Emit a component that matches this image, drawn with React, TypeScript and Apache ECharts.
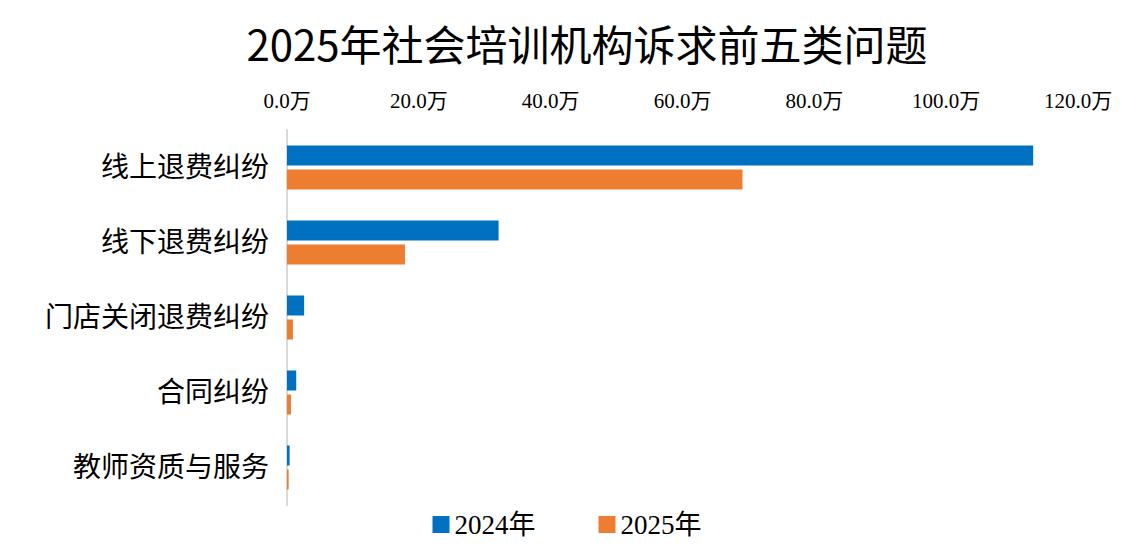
import { useEffect, useRef } from 'react';
import * as echarts from 'echarts';

const categories = ['线上退费纠纷', '线下退费纠纷', '门店关闭退费纠纷', '合同纠纷', '教师资质与服务'];
const values2024 = [113.2, 32.1, 2.6, 1.4, 0.4];
const values2025 = [69.1, 17.9, 0.9, 0.6, 0.25];
const seriesNames = ['2024年', '2025年'];

const SERIF = '"Liberation Serif", "Noto Sans CJK SC", serif';

export default function App() {
  const chartRef = useRef<HTMLDivElement>(null);

  useEffect(() => {
    if (!chartRef.current) return;
    document.body.style.margin = '0';

    const chart = echarts.init(chartRef.current, undefined, { renderer: 'svg' });

    const option: echarts.EChartsOption = {
      animation: false,
      backgroundColor: '#ffffff',
      title: {
        text: '2025年社会培训机构诉求前五类问题',
        left: 582,
        textAlign: 'center',
        top: 16,
        textStyle: {
          fontFamily: '"Noto Sans CJK SC", sans-serif',
          fontSize: 42,
          fontWeight: 'normal',
          color: '#000000',
        },
      },
      legend: {
        data: seriesNames,
        bottom: 12,
        left: 'center',
        icon: 'rect',
        itemWidth: 17,
        itemHeight: 17,
        itemGap: 63,
        itemStyle: { borderWidth: 0 },
        textStyle: { fontFamily: SERIF, fontSize: 27, color: '#000000' },
      },
      grid: {
        left: 287,
        right: 56,
        top: 130,
        bottom: 50,
      },
      xAxis: {
        type: 'value',
        position: 'top',
        min: 0,
        max: 120,
        interval: 20,
        axisLine: { show: false },
        axisTick: { show: false },
        splitLine: { show: false },
        axisLabel: {
          margin: 19,
          fontFamily: SERIF,
          fontSize: 21,
          color: '#000000',
          formatter: (v: number) => `${v.toFixed(1)}万`,
        },
      },
      yAxis: {
        type: 'category',
        data: categories,
        inverse: true,
        axisLine: { show: true, lineStyle: { color: '#D9D9D9', width: 2 } },
        axisTick: { show: false },
        axisLabel: {
          margin: 18,
          fontFamily: SERIF,
          fontSize: 28,
          color: '#000000',
        },
      },
      series: [
        {
          name: seriesNames[0],
          type: 'bar',
          data: values2024,
          barWidth: 20,
          barGap: '20%',
          itemStyle: { color: '#0070C0' },
        },
        {
          name: seriesNames[1],
          type: 'bar',
          data: values2025,
          barWidth: 20,
          barGap: '20%',
          itemStyle: { color: '#ED7D31' },
        },
      ],
    };

    chart.setOption(option);

    const handleResize = () => chart.resize();
    window.addEventListener('resize', handleResize);

    return () => {
      window.removeEventListener('resize', handleResize);
      chart.dispose();
    };
  }, []);

  return <div ref={chartRef} style={{ width: '1134px', height: '555px' }} />;
}
